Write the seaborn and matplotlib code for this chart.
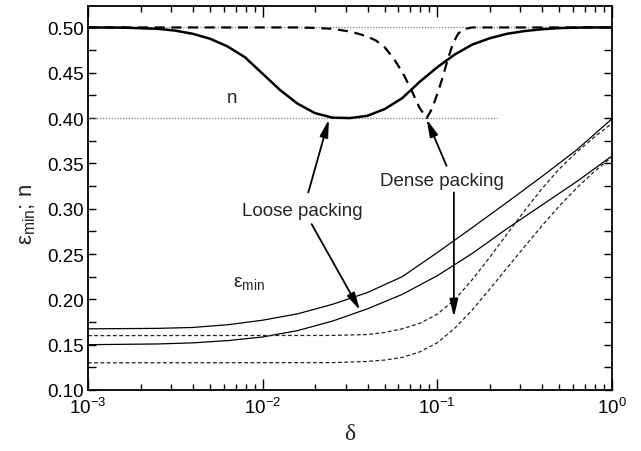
import matplotlib
matplotlib.use("Agg")
import matplotlib.pyplot as plt
import matplotlib.ticker as mticker
import seaborn as sns
import pandas as pd
import numpy as np

# ---------------- data ----------------
# positions are given as log10(delta)

# porosity n, loose packing (heavy solid line)
n_loose_logd = [-3.0, -2.8, -2.6, -2.5, -2.4, -2.3, -2.2, -2.1, -2.0, -1.9, -1.8, -1.7,
                -1.6, -1.5, -1.4, -1.3, -1.2, -1.1, -1.0, -0.9, -0.8, -0.7, -0.6, -0.5,
                -0.4, -0.3, -0.15, 0.0]
n_loose_val = [0.5000, 0.4998, 0.4985, 0.4965, 0.4930, 0.4875, 0.4790, 0.4670, 0.4490,
               0.4310, 0.4160, 0.4055, 0.4005, 0.4000, 0.4025, 0.4100, 0.4220, 0.4400,
               0.4560, 0.4700, 0.4810, 0.4880, 0.4930, 0.4960, 0.4980, 0.4993, 0.5000,
               0.5000]

# porosity n, dense packing (heavy dashed line)
n_dense_logd = [-3.0, -1.8, -1.7, -1.6, -1.5, -1.45, -1.4, -1.35, -1.3, -1.25, -1.2,
                -1.15, -1.1, -1.06, -1.03, -1.0, -0.97, -0.94, -0.91, -0.88, -0.85,
                -0.80, 0.0]
n_dense_val = [0.5000, 0.5000, 0.4995, 0.4985, 0.4955, 0.4930, 0.4900, 0.4855, 0.4780,
               0.4660, 0.4510, 0.4320, 0.4110, 0.4000, 0.4100, 0.4260, 0.4440, 0.4640,
               0.4820, 0.4930, 0.4980, 0.5000, 0.5000]

# eps_min, loose packing (thin solid lines)
eps_loose_logd = [-3.0, -2.6, -2.4, -2.2, -2.0, -1.8, -1.6, -1.4, -1.2, -1.0, -0.8,
                  -0.6, -0.4, -0.2, 0.0]
eps_loose_upper = [0.1675, 0.1680, 0.1690, 0.1720, 0.1770, 0.1840, 0.1945, 0.2075,
                   0.2250, 0.2515, 0.2790, 0.3070, 0.3355, 0.3650, 0.3990]
eps_loose_lower = [0.1500, 0.1508, 0.1520, 0.1545, 0.1585, 0.1655, 0.1760, 0.1895,
                   0.2055, 0.2260, 0.2505, 0.2780, 0.3040, 0.3300, 0.3580]

# eps_min, dense packing (thin dashed lines)
eps_dense_logd = [-3.0, -1.6, -1.4, -1.3, -1.2, -1.1, -1.0, -0.9, -0.8, -0.7, -0.6,
                  -0.5, -0.4, -0.3, -0.2, -0.1, 0.0]
eps_dense_upper = [0.1600, 0.1602, 0.1612, 0.1635, 0.1675, 0.1735, 0.1835, 0.1995,
                   0.2215, 0.2460, 0.2720, 0.2975, 0.3220, 0.3440, 0.3625, 0.3790,
                   0.3940]
eps_dense_lower = [0.1300, 0.1302, 0.1315, 0.1330, 0.1360, 0.1420, 0.1520, 0.1680,
                   0.1880, 0.2110, 0.2345, 0.2580, 0.2810, 0.3030, 0.3230, 0.3410,
                   0.3570]

# dotted reference levels and where they stop
ref_levels = [0.50, 0.40]
ref_ends = [1.0, 0.22]

y_ticks = [0.10, 0.15, 0.20, 0.25, 0.30, 0.35, 0.40, 0.45, 0.50]

# ---------------- styling ----------------
sns.set_theme(style="ticks")
plt.rcParams["font.family"] = ["Liberation Sans", "DejaVu Sans"]
plt.rcParams["mathtext.fontset"] = "custom"
plt.rcParams["mathtext.rm"] = "Liberation Sans"
plt.rcParams["mathtext.it"] = "Liberation Sans:italic"
plt.rcParams["mathtext.bf"] = "Liberation Sans:bold"

fig = plt.figure(figsize=(6.41, 4.52), dpi=100)
ax = fig.add_axes([88 / 641, 61 / 452, 523.7 / 641, 384.3 / 452])


def draw(logd, ys, **kw):
    df = pd.DataFrame({"delta": 10.0 ** np.asarray(logd, dtype=float), "val": ys})
    sns.lineplot(data=df, x="delta", y="val", ax=ax, sort=False, estimator=None, **kw)


# dotted reference lines
for lvl, end in zip(ref_levels, ref_ends):
    draw([-3.0, np.log10(end)], [lvl, lvl], color="#808080", lw=0.9, linestyle=(0, (1, 1.3)))

draw(n_loose_logd, n_loose_val, color="black", lw=1.8)
draw(n_dense_logd, n_dense_val, color="black", lw=1.6, linestyle=(0, (4.5, 3)))

draw(eps_loose_logd, eps_loose_upper, color="black", lw=0.9)
draw(eps_loose_logd, eps_loose_lower, color="black", lw=0.9)
draw(eps_dense_logd, eps_dense_upper, color="#222222", lw=0.9, linestyle=(0, (3, 2)))
draw(eps_dense_logd, eps_dense_lower, color="#222222", lw=0.9, linestyle=(0, (3, 2)))

ax.set_xscale("log")
ax.set_xlim(0.001, 1.0)
ax.set_ylim(0.10, 0.524)

ax.xaxis.set_major_locator(mticker.LogLocator(base=10, numticks=10))
ax.xaxis.set_minor_locator(mticker.LogLocator(base=10, subs=[2, 3, 4, 5, 6, 7, 8, 9], numticks=20))
ax.xaxis.set_minor_formatter(mticker.NullFormatter())
ax.set_yticks(y_ticks)
ax.yaxis.set_major_formatter(mticker.FormatStrFormatter("%.2f"))
ax.yaxis.set_minor_locator(mticker.MultipleLocator(0.025))

ax.tick_params(axis="both", which="both", direction="in", top=True, right=True,
               labelsize=13.5, colors="black", width=1.0)
ax.tick_params(axis="x", which="major", length=8, pad=5)
ax.tick_params(axis="x", which="minor", length=4.5)
ax.tick_params(axis="y", which="major", length=6, pad=3)
ax.tick_params(axis="y", which="minor", length=6)
for sp in ax.spines.values():
    sp.set_linewidth(1.3)
    sp.set_color("black")

ax.set_xlabel("δ", fontsize=17, family=["Liberation Serif", "DejaVu Serif"], labelpad=4)
ax.set_ylabel(r"$\mathrm{ε}_{\mathrm{min}}$; n", fontsize=16)
ax.yaxis.set_label_coords(-0.096, 0.46)

# text labels
ax.text(0.00665, 0.4227, "n", fontsize=13.5, ha="center", va="center")
ax.text(0.00678, 0.215, r"$\mathrm{ε}_{\mathrm{min}}$", fontsize=14, ha="left", va="baseline")
ax.text(0.01692, 0.2985, "Loose packing", fontsize=13.5, ha="center", va="center")
ax.text(0.1061, 0.3308, "Dense packing", fontsize=13.5, ha="center", va="center")

arrow_kw = dict(arrowstyle="-|>,head_length=0.75,head_width=0.18", color="black", lw=1.3,
                shrinkA=0, shrinkB=0, mutation_scale=14)
ax.annotate("", xy=(0.02399, 0.3985), xytext=(0.01828, 0.318), arrowprops=arrow_kw)
ax.annotate("", xy=(0.03614, 0.1880), xytext=(0.01910, 0.283), arrowprops=arrow_kw)
ax.annotate("", xy=(0.0871, 0.3988), xytext=(0.1132, 0.3473), arrowprops=arrow_kw)
ax.annotate("", xy=(0.1247, 0.1805), xytext=(0.1247, 0.318), arrowprops=arrow_kw)

fig.savefig("out.png", dpi=100)
